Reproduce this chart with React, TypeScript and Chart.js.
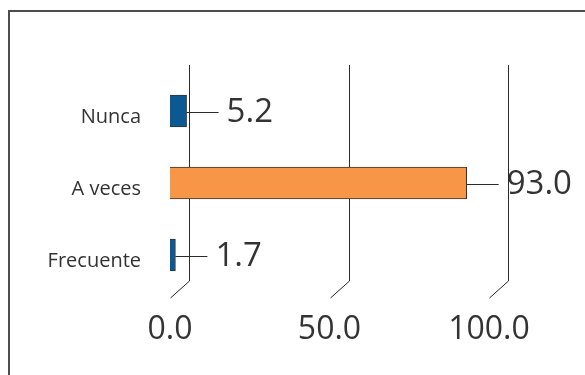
import React, { useEffect, useRef } from "react";
import { Chart, registerables } from "chart.js";

Chart.register(...registerables);

// Frequency categories (top to bottom) and their percentages
const categories = ["Nunca", "A veces", "Frecuente"];
const values = [5.2, 93.0, 1.7];
const barColors = ["#0b5893", "#f79646", "#0b5893"];
const axisTicks = [0, 50, 100];

const FONT = "'Open Sans', 'Noto Sans', sans-serif";
const TEXT = "#333333";
const LINE = "#2b2b2b";

// offset of the back wall relative to the front plane (pseudo-3D floor)
const DEPTH_X = 19;
const DEPTH_Y = 17;

const depthPlugin = {
  id: "depthDecor",
  beforeDraw(chart: any) {
    const ctx = chart.ctx;
    ctx.save();
    ctx.fillStyle = "#ffffff";
    ctx.fillRect(0, 0, chart.width, chart.height);
    // outer frame (top and left edges visible)
    ctx.fillStyle = "#4d4d4d";
    ctx.fillRect(8, 10, chart.width, 2);
    ctx.fillRect(8, 10, 2, chart.height);
    ctx.restore();
  },
  beforeDatasetsDraw(chart: any) {
    const ctx = chart.ctx;
    const xs = chart.scales.x;
    const area = chart.chartArea;
    const floorFront = area.bottom + 7;
    const floorBack = floorFront - DEPTH_Y;
    const top = area.top - 10;
    ctx.save();
    ctx.strokeStyle = LINE;
    ctx.lineWidth = 1;
    axisTicks.forEach((t) => {
      const x = Math.round(xs.getPixelForValue(t)) + 0.5;
      ctx.beginPath();
      ctx.moveTo(x + DEPTH_X, top);
      ctx.lineTo(x + DEPTH_X, floorBack);
      ctx.lineTo(x, floorFront);
      ctx.stroke();
    });
    ctx.restore();
  },
  afterDatasetsDraw(chart: any) {
    const ctx = chart.ctx;
    const meta = chart.getDatasetMeta(0);
    ctx.save();
    ctx.strokeStyle = LINE;
    ctx.lineWidth = 1;
    ctx.fillStyle = TEXT;
    ctx.font = `33px ${FONT}`;
    ctx.textBaseline = "middle";
    ctx.textAlign = "left";
    meta.data.forEach((bar: any, i: number) => {
      const x = bar.x;
      const y = Math.round(bar.y) + 1.5;
      ctx.beginPath();
      ctx.moveTo(x, y);
      ctx.lineTo(x + 32, y);
      ctx.stroke();
      ctx.fillText(values[i].toFixed(1), x + 40, y);
    });
    ctx.restore();
  },
};

export default function App() {
  const ref = useRef<HTMLCanvasElement | null>(null);

  useEffect(() => {
    if (!ref.current) return;
    const chart = new Chart(ref.current, {
      type: "bar",
      data: {
        labels: categories,
        datasets: [
          {
            data: values,
            backgroundColor: barColors,
            borderColor: "#333333",
            borderWidth: 1,
            barThickness: 32,
          },
        ],
      },
      options: {
        indexAxis: "y",
        responsive: false,
        animation: false,
        devicePixelRatio: 1,
        layout: { padding: { top: 75, right: 96, bottom: 0, left: 0 } },
        plugins: {
          legend: { display: false },
          tooltip: { enabled: false },
        },
        scales: {
          x: {
            min: 0,
            max: 100,
            afterBuildTicks: (scale: any) => {
              scale.ticks = axisTicks.map((v) => ({ value: v }));
            },
            afterFit: (scale: any) => {
              scale.height = 84;
            },
            grid: { display: false, drawTicks: false },
            border: { display: false },
            ticks: {
              padding: 20,
              color: TEXT,
              font: { family: FONT, size: 32 },
              callback: (v: any) => Number(v).toFixed(1),
            },
          },
          y: {
            afterFit: (scale: any) => {
              scale.width = 170;
            },
            grid: { display: false, drawTicks: false },
            border: { display: false },
            ticks: {
              padding: 29,
              labelOffset: 6,
              color: TEXT,
              font: { family: FONT, size: 20 },
            },
          },
        },
      },
      plugins: [depthPlugin],
    });
    return () => chart.destroy();
  }, []);

  return (
    <div style={{ position: "absolute", left: 0, top: 0, width: 585, height: 375, overflow: "hidden" }}>
      <canvas ref={ref} width={585} height={375} style={{ display: "block" }} />
    </div>
  );
}
